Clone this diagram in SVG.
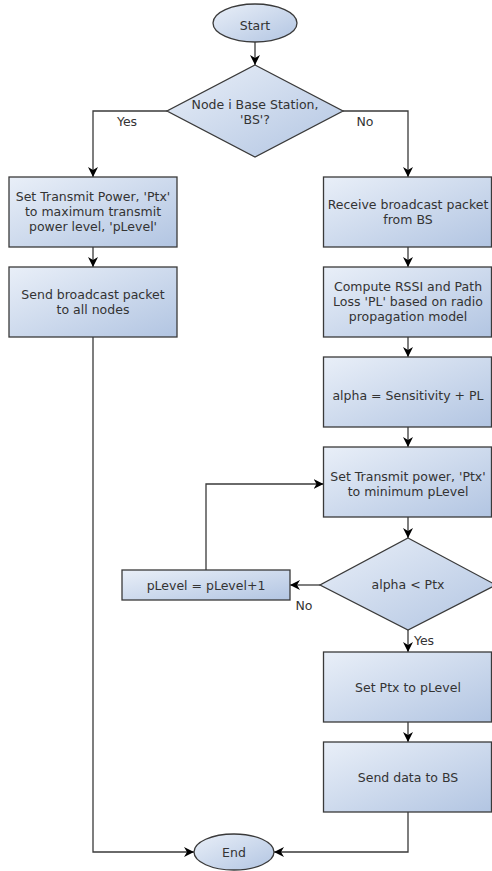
<svg xmlns="http://www.w3.org/2000/svg" width="492" height="871" viewBox="0 0 492 871">
<defs>
<linearGradient id="g" x1="0" y1="0" x2="1" y2="1">
<stop offset="0" stop-color="#e9eff8"/>
<stop offset="1" stop-color="#b2c5e2"/>
</linearGradient>
<marker id="ah" viewBox="0 0 10 10" refX="10" refY="5" markerWidth="10" markerHeight="10" markerUnits="userSpaceOnUse" orient="auto">
<path d="M0,0 L10,5 L0,10 L3,5 z" fill="#000"/>
</marker>
<style>
.s{fill:url(#g);stroke:#3a3a3a;stroke-width:1.3}
.t{font-family:"DejaVu Sans",sans-serif;font-size:12.5px;fill:#333;text-anchor:middle}
.c{fill:none;stroke:#3a3a3a;stroke-width:1.3;marker-end:url(#ah)}
</style>
</defs>
<rect width="492" height="871" fill="#fff"/>
<g id="connectors">
<path class="c" d="M255,42 V65"/>
<path class="c" d="M167,111 H93 V177"/>
<path class="c" d="M343,111 H408 V177"/>
<path class="c" d="M93,247 V267"/>
<path class="c" d="M408,247 V267"/>
<path class="c" d="M408,337 V357"/>
<path class="c" d="M408,427 V447"/>
<path class="c" d="M408,517 V538"/>
<path class="c" d="M320,585 H290"/>
<path class="c" d="M206,570 V484 H323.5"/>
<path class="c" d="M408,630 V652"/>
<path class="c" d="M408,722 V742"/>
<path class="c" d="M93,337 V852 H194"/>
<path class="c" d="M408,812 V852 H274"/>
<text class="t" x="127" y="126">Yes</text>
<text class="t" x="365" y="126">No</text>
<text class="t" x="304" y="610">No</text>
<text class="t" x="424" y="645">Yes</text>
</g>
<g id="start"><ellipse class="s" cx="255" cy="23" rx="42" ry="19"/><text class="t" x="255" y="29.5">Start</text></g>
<g id="decision-bs"><polygon class="s" points="255,65 343,111 255,157 167,111"/><text class="t" x="255" y="108.5">Node i Base Station,</text><text class="t" x="255" y="123.5">'BS'?</text></g>
<g id="set-max"><rect class="s" x="9" y="177" width="168" height="70"/><text class="t" x="93" y="201">Set Transmit Power, 'Ptx'</text><text class="t" x="93" y="216">to maximum transmit</text><text class="t" x="93" y="231">power level, 'pLevel'</text></g>
<g id="send-broadcast"><rect class="s" x="9" y="267" width="168" height="70"/><text class="t" x="93" y="299">Send broadcast packet</text><text class="t" x="93" y="314">to all nodes</text></g>
<g id="receive"><rect class="s" x="323.5" y="177" width="168" height="70"/><text class="t" x="408" y="208.5">Receive broadcast packet</text><text class="t" x="408" y="223.5">from BS</text></g>
<g id="compute"><rect class="s" x="323.5" y="267" width="168" height="70"/><text class="t" x="408" y="291">Compute RSSI and Path</text><text class="t" x="408" y="306">Loss 'PL' based on radio</text><text class="t" x="408" y="321">propagation model</text></g>
<g id="alpha"><rect class="s" x="323.5" y="357" width="168" height="70"/><text class="t" x="408" y="399.5">alpha = Sensitivity + PL</text></g>
<g id="set-min"><rect class="s" x="323.5" y="447" width="168" height="70"/><text class="t" x="408" y="481">Set Transmit power, 'Ptx'</text><text class="t" x="408" y="496">to minimum pLevel</text></g>
<g id="decision-alpha"><polygon class="s" points="408,538 496,585 408,630 320,585"/><text class="t" x="408" y="589">alpha &lt; Ptx</text></g>
<g id="increment"><rect class="s" x="122" y="570" width="168" height="30"/><text class="t" x="206" y="589.5">pLevel = pLevel+1</text></g>
<g id="set-ptx"><rect class="s" x="323.5" y="652" width="168" height="70"/><text class="t" x="408" y="691.5">Set Ptx to pLevel</text></g>
<g id="send-data"><rect class="s" x="323.5" y="742" width="168" height="70"/><text class="t" x="408" y="781.5">Send data to BS</text></g>
<g id="end"><ellipse class="s" cx="234" cy="852" rx="40" ry="18"/><text class="t" x="234" y="856.5">End</text></g>
</svg>
